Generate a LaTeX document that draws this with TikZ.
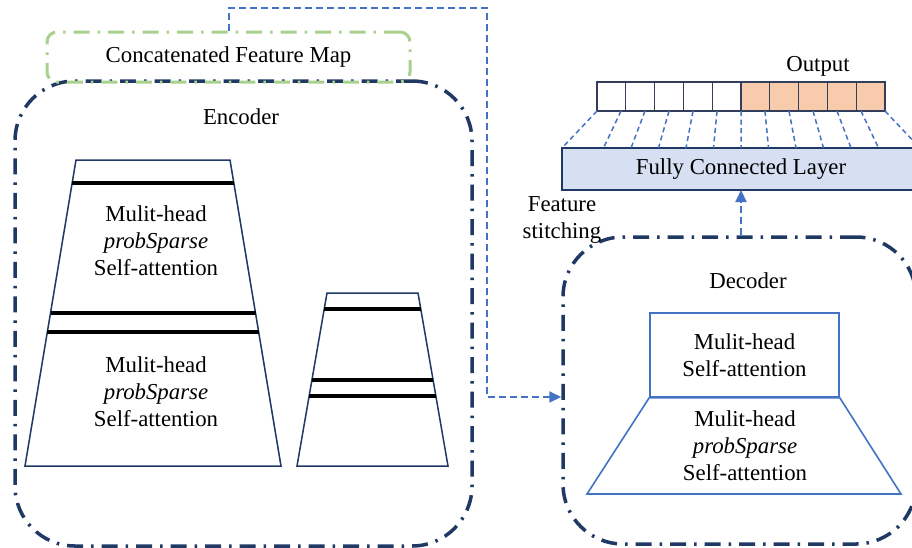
\documentclass[tikz,border=0pt]{standalone}
\usepackage{fontspec}
\setmainfont{Liberation Serif}
\usetikzlibrary{positioning,calc,arrows.meta}
\definecolor{navy}{RGB}{31,56,100}
\definecolor{lgreen}{RGB}{169,209,142}
\definecolor{lblue}{RGB}{68,114,196}
\definecolor{peach}{RGB}{248,203,173}
\definecolor{fcfill}{RGB}{214,224,242}
\definecolor{cellc}{RGB}{52,62,90}
\tikzstyle{frame}=[draw=navy,line width=3.5pt,rounded corners=60pt,dash pattern=on 16pt off 8pt on 2.5pt off 8pt,inner sep=0pt]
\tikzstyle{concat}=[draw=lgreen,line width=3pt,rounded corners=10pt,dash pattern=on 16pt off 8pt on 2.5pt off 8pt,inner sep=0pt]
\tikzstyle{txt}=[inner sep=0pt,align=center]
\tikzstyle{trap}=[draw=navy,line width=1.5pt,line join=miter]
\tikzstyle{bar}=[draw=black,line width=3.5pt]
\tikzstyle{attn}=[draw=lblue,line width=1.6pt,inner sep=0pt,align=center]
\tikzstyle{outcell}=[draw=cellc,line width=1.2pt,minimum width=28.8pt,minimum height=29pt,inner sep=0pt,outer sep=0pt]
\tikzstyle{fcbox}=[draw=navy,fill=fcfill,line width=1.3pt,minimum width=358pt,minimum height=42pt,inner sep=0pt,outer sep=0pt]
\tikzstyle{fan}=[draw=lblue,line width=1.5pt,dash pattern=on 5pt off 3.5pt]
\tikzstyle{link}=[draw=lblue,line width=2pt,dash pattern=on 7pt off 4pt,-{Triangle[length=12pt,width=11pt]}]

\begin{document}
\begin{tikzpicture}[x=1pt,y=-1pt,font=\fontsize{22.8}{27}\selectfont]
\useasboundingbox (0,0) rectangle (912,547);
\clip (0,0) rectangle (912,547);
\fill[white] (0,0) rectangle (912,547);

% encoder / decoder frames
\node[frame,minimum width=457pt,minimum height=465pt] (encoder) at (243.5,313.5) {};
\node[frame,minimum width=353pt,minimum height=307pt] (decoder) at (739.5,390.5) {};
\node[concat,minimum width=363pt,minimum height=50pt] (concat) at (228.5,57) {Concatenated Feature Map};
\node[txt] (enclabel) at (241,117) {Encoder};
\node[txt] (declabel) at (748,281) {Decoder};

% encoder stacks
\coordinate (a1) at (76,160);
\coordinate (a2) at (230,160);
\coordinate (a3) at (281,466);
\coordinate (a4) at (25,466);
\draw[trap] (a1) -- (a2) -- (a3) -- (a4) -- cycle;
\foreach \y in {183,313,332}
  \draw[bar] ($(a1)!{(\y-160)/306}!(a4)$) -- ($(a2)!{(\y-160)/306}!(a3)$);
\node[txt] (enc1) at (156,241) {Mulit-head\\\textit{probSparse}\\Self-attention};
\node[txt] (enc2) at (156,391.5) {Mulit-head\\\textit{probSparse}\\Self-attention};

\coordinate (b1) at (327,293);
\coordinate (b2) at (418,293);
\coordinate (b3) at (448,466);
\coordinate (b4) at (297,466);
\draw[trap] (b1) -- (b2) -- (b3) -- (b4) -- cycle;
\foreach \y in {309,380,396}
  \draw[bar] ($(b1)!{(\y-293)/173}!(b4)$) -- ($(b2)!{(\y-293)/173}!(b3)$);

% decoder stack
\node[attn,minimum width=189pt,minimum height=84pt] (self) at (744.5,355) {Mulit-head\\Self-attention};
\draw[attn,line join=miter] (self.south west) -- (self.south east) -- (901,494) -- (587,494) -- cycle;
\node[txt] (dec1) at (745,445.5) {Mulit-head\\\textit{probSparse}\\Self-attention};

% output cells
\node[outcell] (o1) at (611.4,96.5) {};
\foreach \i [count=\j from 2] in {1,...,4}
  \node[outcell,right=0pt of o\i] (o\j) {};
\foreach \i [count=\j from 6] in {5,...,9}
  \node[outcell,fill=peach,right=0pt of o\i] (o\j) {};
\node[txt] (outlabel) at (818,66) {Output};

\node[fcbox] (fc) at (741,169) {Fully Connected Layer};
\draw[fan] (o1.south west) -- (fc.north west);
\draw[fan] (o10.south east) -- (fc.north east);
\foreach \k in {1,...,11}
  \draw[fan] ($(o1.south west)!\k/12!(o10.south east)$) -- ($(fc.north)+({(\k-6)*27.5},0)$);

\node[txt] (stitch) at (562,220) {Feature\\stitching};

% connectors
\coordinate (bend) at (487,8);
\draw[link] (concat.north) |- (bend) |- (decoder.west |- 0,397);
\draw[link] (decoder.north -| fc.south) -- (fc.south);
\end{tikzpicture}
\end{document}
